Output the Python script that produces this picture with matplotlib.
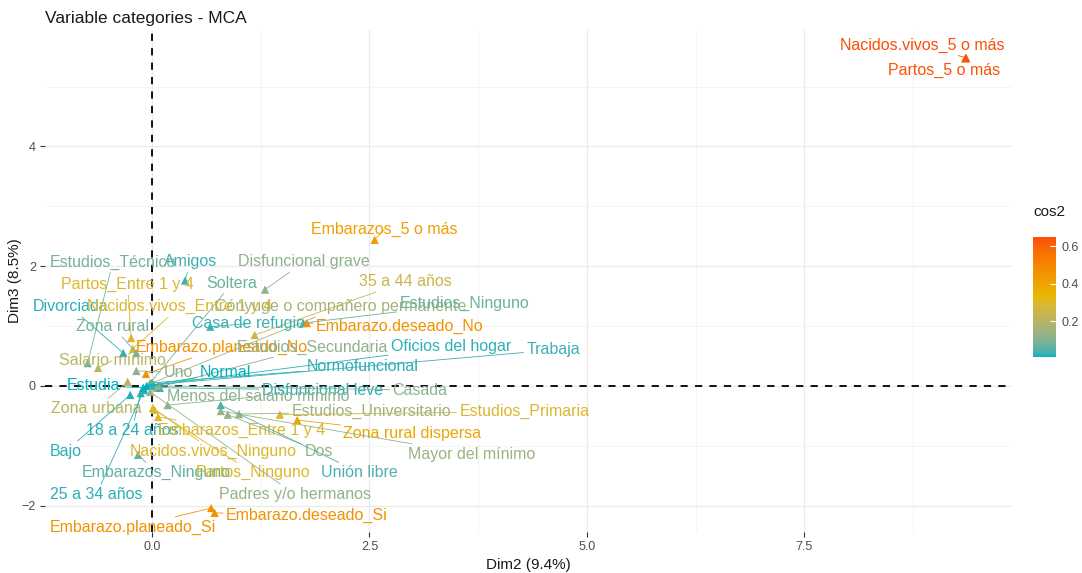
import matplotlib.pyplot as plt
import numpy as np
from matplotlib.colors import ListedColormap, Normalize, to_rgb
from matplotlib.colorbar import ColorbarBase

plt.rcParams['font.family'] = ['Liberation Sans', 'DejaVu Sans']

# MCA variable categories: coordinates on Dim2 / Dim3 and cos2
categories = [
    "Nacidos.vivos_5 o más", "Partos_5 o más", "Embarazos_5 o más", "Disfuncional grave",
    "Amigos", "Estudios_Técnico", "Partos_Entre 1 y 4", "Soltera", "Divorciada",
    "Nacidos.vivos_Entre 1 y 4", "Cónyuge o compañero permanente", "Estudios_Ninguno",
    "35 a 44 años", "Zona rural", "Casa de refugio", "Embarazo.deseado_No", "Salario mínimo",
    "Embarazo.planeado_No", "Estudios_Secundaria", "Oficios del hogar", "Trabaja", "Uno",
    "Normal", "Normofuncional", "Zona urbana", "Disfuncional leve", "Casada",
    "Menos del salario mínimo", "Estudios_Universitario", "Estudios_Primaria", "18 a 24 años",
    "Embarazos_Entre 1 y 4", "Zona rural dispersa", "Bajo", "Nacidos.vivos_Ninguno", "Dos",
    "Mayor del mínimo", "Embarazos_Ninguno", "Partos_Ninguno", "Unión libre", "25 a 34 años",
    "Padres y/o hermanos", "Embarazo.planeado_Si", "Embarazo.deseado_Si", "Estudia",
]
dim2 = [9.36, 9.35, 2.56, 1.30, 0.38, -0.74, -0.24, -0.02, -0.33, -0.22, -0.03, 1.74,
        1.18, -0.18, 0.67, 1.78, -0.62, -0.07, 0.05, -0.02, 0.02, -0.18, -0.06, 0.00,
        -0.28, 0.09, 0.07, 0.18, 1.00, 1.47, -0.13, 0.07, 1.67, -0.25, 0.01, 0.87,
        0.79, -0.16, 0.03, 0.79, -0.09, -0.02, 0.68, 0.72, -0.10]
dim3 = [5.48, 5.47, 2.44, 1.61, 1.76, 0.38, 0.80, 0.05, 0.55, 0.62, 0.03, 1.05,
        0.85, 0.55, 0.99, 1.05, 0.30, 0.20, -0.03, 0.00, 0.02, 0.25, 0.00, 0.05,
        0.07, -0.03, 0.00, -0.32, -0.47, -0.48, -0.12, -0.52, -0.57, -0.15, -0.37, -0.48,
        -0.42, -1.15, -0.40, -0.32, -0.07, -0.10, -2.04, -2.12, -0.03]
cos2 = [0.65, 0.64, 0.42, 0.12, 0.03, 0.08, 0.30, 0.07, 0.02, 0.30, 0.16, 0.07,
        0.25, 0.09, 0.03, 0.46, 0.21, 0.46, 0.12, 0.02, 0.03, 0.12, 0.01, 0.02,
        0.21, 0.02, 0.12, 0.12, 0.14, 0.30, 0.02, 0.30, 0.40, 0.02, 0.30, 0.13,
        0.14, 0.06, 0.30, 0.04, 0.02, 0.13, 0.46, 0.46, 0.01]

# repelled label positions (data units)
label_x = [8.85, 9.11, 2.67, 1.75, 0.44, -0.45, -0.28, 0.92, -0.94, 0.32, 2.17, 3.59,
           2.91, -0.45, 1.11, 2.85, -0.46, 0.80, 1.85, 3.44, 4.61, 0.30, 0.85, 2.42,
           -0.64, 1.96, 3.08, 1.22, 2.52, 4.28, -0.23, 1.03, 2.99, -0.99, 0.70, 1.92,
           3.68, 0.05, 1.16, 2.39, -0.64, 1.64, -0.22, 1.78, -0.67]
label_y = [5.69, 5.27, 2.61, 2.07, 2.07, 2.07, 1.69, 1.71, 1.32, 1.32, 1.32, 1.37,
           1.74, 0.99, 1.04, 1.00, 0.42, 0.64, 0.65, 0.65, 0.60, 0.22, 0.22, 0.32,
           -0.38, -0.07, -0.07, -0.18, -0.43, -0.43, -0.74, -0.74, -0.79, -1.09, -1.09, -1.09,
           -1.14, -1.45, -1.45, -1.45, -1.81, -1.81, -2.36, -2.17, 0.00]

gradient_cols = ["#00AFBB", "#E7B800", "#FC4E07"]

WHITE = np.array([0.95047, 1.0, 1.08883])
M = np.array([[0.4124, 0.3576, 0.1805],
              [0.2126, 0.7152, 0.0722],
              [0.0193, 0.1192, 0.9505]])
MINV = np.linalg.inv(M)


def to_lab(c):
    rgb = np.array(to_rgb(c))
    lin = np.where(rgb <= 0.04045, rgb / 12.92, ((rgb + 0.055) / 1.055) ** 2.4)
    xyz = M @ lin / WHITE
    f = np.where(xyz > 0.008856, np.cbrt(xyz), 7.787 * xyz + 16 / 116)
    return np.array([116 * f[1] - 16, 500 * (f[0] - f[1]), 200 * (f[1] - f[2])])


def from_lab(lab):
    L, a, b = lab
    fy = (L + 16) / 116
    f = np.array([fy + a / 500, fy, fy - b / 200])
    xyz = np.where(f ** 3 > 0.008856, f ** 3, (f - 16 / 116) / 7.787) * WHITE
    lin = MINV @ xyz
    lin = np.clip(lin, 0, 1)
    rgb = np.where(lin <= 0.0031308, 12.92 * lin, 1.055 * lin ** (1 / 2.4) - 0.055)
    return np.clip(rgb, 0, 1)


# ggplot-like gradient interpolated in Lab space
labs = [to_lab(c) for c in gradient_cols]
ramp = []
for t in np.linspace(0, 1, 256):
    seg = min(int(t * 2), 1)
    u = t * 2 - seg
    ramp.append(from_lab(labs[seg] * (1 - u) + labs[seg + 1] * u))
cmap = ListedColormap(ramp)
norm = Normalize(vmin=min(cos2), vmax=max(cos2))

fig = plt.figure(figsize=(10.82, 5.73), dpi=100)
ax = fig.add_axes([0.0416, 0.0716, 0.8935, 0.8766])
ax.set_xlim(-1.23, 9.885)
ax.set_ylim(-2.44, 5.95)

ax.set_xticks([0, 2.5, 5, 7.5])
ax.set_xticklabels(["0.0", "2.5", "5.0", "7.5"])
ax.set_yticks([-2, 0, 2, 4])
ax.set_xticks([1.25, 3.75, 6.25, 8.75], minor=True)
ax.set_yticks([-1, 1, 3, 5], minor=True)
ax.grid(True, which='major', color='#EBEBEB', linewidth=0.9)
ax.grid(True, which='minor', color='#F2F2F2', linewidth=0.5)
ax.set_axisbelow(True)
for s in ax.spines.values():
    s.set_visible(False)
ax.tick_params(which='major', length=3.5, width=0.8, color='#333333',
               labelsize=9, labelcolor='#4D4D4D', pad=3)
ax.tick_params(which='minor', length=0)

ax.axhline(0, color='black', linestyle=(0, (4, 4)), linewidth=1.3, zorder=1)
ax.axvline(0, color='black', linestyle=(0, (4, 4)), linewidth=1.3, zorder=1)

colors = [cmap(norm(c)) for c in cos2]
ax.scatter(dim2, dim3, c=colors, marker='^', s=36, zorder=3, linewidths=0)

for name, x, y, lx, ly, col in zip(categories, dim2, dim3, label_x, label_y, colors):
    ax.annotate(name, xy=(x, y), xytext=(lx, ly), textcoords='data',
                ha='center', va='center', fontsize=11.5, color=col, zorder=4,
                arrowprops=dict(arrowstyle='-', color=col, lw=0.6,
                                shrinkA=0, shrinkB=1))

fig.text(45 / 1082, 1 - 18 / 573, "Variable categories - MCA", fontsize=12.5,
         color='#1A1A1A', va='center', ha='left')
fig.text(528 / 1082, 1 - 565 / 573, "Dim2 (9.4%)", fontsize=11, color='#1A1A1A',
         ha='center', va='center')
fig.text(15 / 1082, 1 - 281 / 573, "Dim3 (8.5%)", fontsize=11, color='#1A1A1A',
         ha='center', va='center', rotation=90)

cax = fig.add_axes([1033 / 1082, 1 - 357 / 573, 23 / 1082, 120 / 573])
cb = ColorbarBase(cax, cmap=cmap, norm=norm, orientation='vertical')
cb.outline.set_visible(False)
cb.set_ticks([0.2, 0.4, 0.6])
cb.ax.tick_params(length=4, width=0.8, color='white', direction='in',
                  labelsize=9, labelcolor='#4D4D4D', pad=4)
cb.ax.yaxis.set_tick_params(which='minor', length=0)
fig.text(1033 / 1082, 1 - 212 / 573, "cos2", fontsize=11, color='#1A1A1A',
         ha='left', va='center')

fig.savefig("out.png", dpi=100)
